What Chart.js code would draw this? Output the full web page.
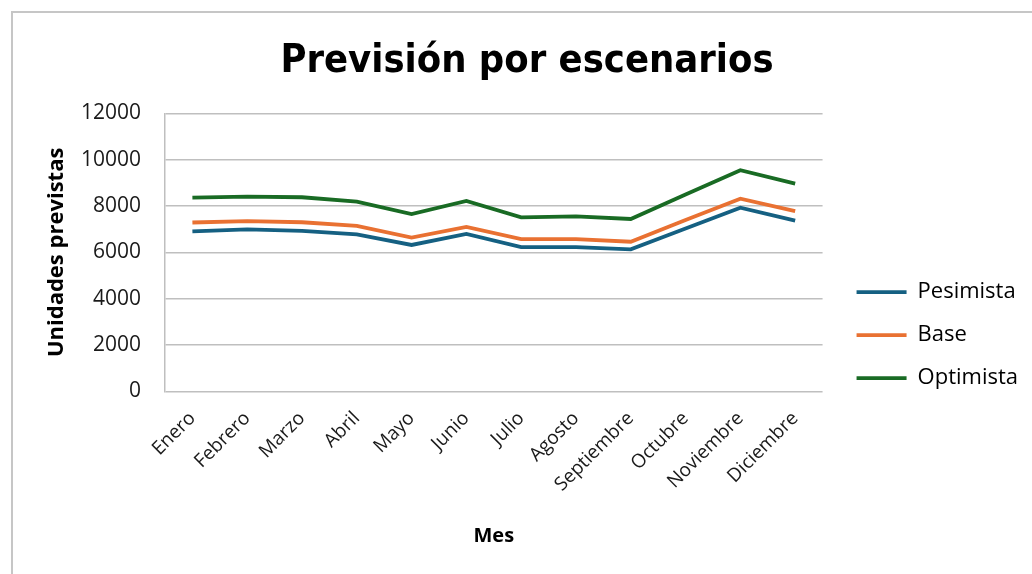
<!DOCTYPE html>
<html>
<head>
<meta charset="utf-8">
<script src="https://cdn.jsdelivr.net/npm/chart.js@4.4.1/dist/chart.umd.min.js"></script>
<style>
html, body { margin: 0; padding: 0; background: #fff; overflow: hidden; }
#frame { position: absolute; left: 11px; top: 11px; width: 1040px; height: 600px; border: 2px solid #c6c6c6; box-sizing: border-box; }
#wrap { position: absolute; left: 0; top: 0; width: 1032px; height: 574px; }
</style>
</head>
<body>
<div id="frame"></div>
<div id="wrap"><canvas id="chartLine"></canvas></div>
<script>
const meses = ["Enero", "Febrero", "Marzo", "Abril", "Mayo", "Junio", "Julio", "Agosto", "Septiembre", "Octubre", "Noviembre", "Diciembre"];
const pesimista = [6910, 6990, 6930, 6780, 6320, 6800, 6230, 6230, 6130, 7030, 7930, 7370];
const base = [7290, 7350, 7300, 7140, 6640, 7100, 6570, 6570, 6460, 7400, 8320, 7780];
const optimista = [8360, 8410, 8380, 8190, 7650, 8220, 7510, 7550, 7440, 8500, 9550, 8970];
const yMin = 0, yMax = 12000, yStep = 2000;

const txtFont = "'Open Sans', 'Noto Sans', sans-serif";

const chartLine = new Chart("chartLine", {
    type: "line",
    data: {
    labels: meses,
    datasets: [
        { label: "Pesimista", data: pesimista, borderColor: "#156082", backgroundColor: "#156082", borderWidth: 3.8 },
        { label: "Base", data: base, borderColor: "#E97132", backgroundColor: "#E97132", borderWidth: 3.8 },
        { label: "Optimista", data: optimista, borderColor: "#196B24", backgroundColor: "#196B24", borderWidth: 3.8 },
    ],
    },
    options: {
    responsive: true,
    maintainAspectRatio: false,
    animation: false,
    layout: { padding: { left: 26, right: 4, bottom: 26, top: 0 } },
    elements: {
        line: { tension: 0 },
        point: { radius: 0 },
    },
    plugins: {
        title: {
        display: true,
        text: "Previsión por escenarios",
        color: "#000",
        font: { family: "'Liberation Sans Narrow', 'DejaVu Sans Condensed', sans-serif", size: 39.5, weight: "bold" },
        padding: { top: 38, bottom: 28 },
        },
        legend: {
        position: "right",
        maxWidth: 220,
        title: { display: true, text: " ", font: { size: 12 }, padding: { top: 108, bottom: 0 } },
        labels: {
            usePointStyle: true,
            pointStyle: "line",
            pointStyleWidth: 50,
            padding: 21,
            color: "#000",
            font: { family: txtFont, size: 22 },
        },
        },
        tooltip: { enabled: false },
    },
    scales: {
        x: {
        offset: true,
        grid: { display: false },
        border: { display: false },
        ticks: {
            color: "#1a1a1a",
            font: { family: txtFont, size: 19 },
            minRotation: 45,
            maxRotation: 45,
            autoSkip: false,
            padding: 8,
        },
        title: {
            display: true,
            text: "Mes",
            color: "#000",
            font: { family: txtFont, size: 20, weight: "bold" },
            padding: { top: 20, bottom: 0 },
        },
        },
        y: {
        min: yMin,
        max: yMax,
        afterFit: (scale) => { scale.width = 139; },
        grid: { color: "#bfbfbf", lineWidth: 1.5, drawTicks: false },
        border: { display: true, color: "#bfbfbf", width: 1.5 },
        ticks: {
            stepSize: yStep,
            color: "#1a1a1a",
            font: { family: txtFont, size: 21 },
            padding: 24,
            callback: (v) => String(v),
        },
        title: {
            display: true,
            text: "Unidades previstas",
            color: "#000",
            font: { family: txtFont, size: 22, weight: "bold" },
            padding: { top: 18, bottom: 8 },
        },
        },
        // empty spacer between the plot and the legend
        gap: {
        position: "right",
        grid: { display: false },
        border: { display: false },
        ticks: { display: false },
        afterFit: (scale) => { scale.width = 13; },
        },
    },
    },
});
</script>
</body>
</html>
